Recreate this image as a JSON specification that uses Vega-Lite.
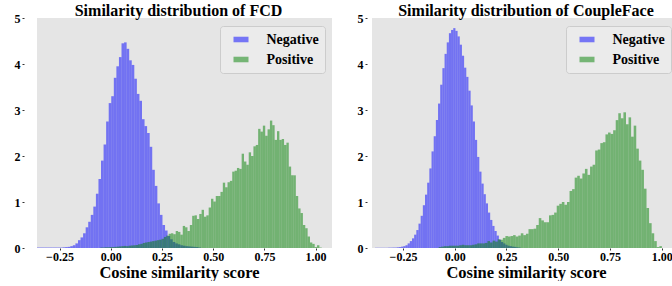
{
"$schema": "https://vega.github.io/schema/vega-lite/v6.json",
"background": "white",
"padding": {"left": 14, "top": 3, "right": 0, "bottom": 0},
"spacing": 25,
"config": {
  "view": {"fill": "#e5e5e5", "stroke": null},
  "font": "Liberation Serif",
  "title": {"font": "Liberation Serif", "fontSize": 16, "fontWeight": "bold", "color": "black", "offset": -7},
  "axis": {"labelFont": "Liberation Serif", "labelFontWeight": "bold", "labelFontSize": 12, "labelColor": "black", "titleFont": "Liberation Serif", "titleFontWeight": "bold", "titleFontSize": 16.5, "titleColor": "black", "grid": false, "domain": false, "tickColor": "#333333", "tickSize": 2, "labelPadding": 2},
  "legend": {"orient": "none", "title": null, "labelFont": "Liberation Serif", "labelFontWeight": "bold", "labelFontSize": 14, "labelColor": "black", "fillColor": "#ebebeb", "strokeColor": "#cccccc", "cornerRadius": 3, "padding": 6, "symbolType": "M-1,-0.37H1V0.37H-1Z", "symbolSize": 225, "symbolOffset": 7.5, "labelOffset": 18, "rowPadding": 5, "symbolOpacity": 0.5, "symbolStrokeWidth": 0}
},
"datasets": {
"fcdN": [
{"a":-0.36,"b":-0.3475,"h":0.01},{"a":-0.3475,"b":-0.335,"h":0.01},{"a":-0.335,"b":-0.3225,"h":0.01},{"a":-0.3225,"b":-0.31,"h":0.01},{"a":-0.31,"b":-0.2975,"h":0.01},{"a":-0.2975,"b":-0.285,"h":0.01},{"a":-0.285,"b":-0.2725,"h":0.01},{"a":-0.2725,"b":-0.26,"h":0.01},{"a":-0.26,"b":-0.2475,"h":0.01},{"a":-0.2475,"b":-0.235,"h":0.01},
{"a":-0.235,"b":-0.2225,"h":0.015},{"a":-0.2225,"b":-0.21,"h":0.02},{"a":-0.21,"b":-0.1975,"h":0.025},{"a":-0.1975,"b":-0.185,"h":0.04},{"a":-0.185,"b":-0.1725,"h":0.06},{"a":-0.1725,"b":-0.16,"h":0.1},{"a":-0.16,"b":-0.1475,"h":0.17},{"a":-0.1475,"b":-0.135,"h":0.23},{"a":-0.135,"b":-0.1225,"h":0.32},{"a":-0.1225,"b":-0.11,"h":0.45},
{"a":-0.11,"b":-0.0975,"h":0.57},{"a":-0.0975,"b":-0.085,"h":0.72},{"a":-0.085,"b":-0.0725,"h":0.9},{"a":-0.0725,"b":-0.06,"h":1.18},{"a":-0.06,"b":-0.0475,"h":1.5},{"a":-0.0475,"b":-0.035,"h":1.9},{"a":-0.035,"b":-0.0225,"h":2.25},{"a":-0.0225,"b":-0.01,"h":2.75},{"a":-0.01,"b":0.0025,"h":3.15},{"a":0.0025,"b":0.015,"h":3.3},
{"a":0.015,"b":0.0275,"h":3.7},{"a":0.0275,"b":0.04,"h":3.95},{"a":0.04,"b":0.0525,"h":4.15},{"a":0.0525,"b":0.065,"h":4.45},{"a":0.065,"b":0.0775,"h":4.47},{"a":0.0775,"b":0.09,"h":4.33},{"a":0.09,"b":0.1025,"h":4.08},{"a":0.1025,"b":0.115,"h":3.98},{"a":0.115,"b":0.1275,"h":3.68},{"a":0.1275,"b":0.14,"h":3.35},
{"a":0.14,"b":0.1525,"h":3.2},{"a":0.1525,"b":0.165,"h":2.8},{"a":0.165,"b":0.1775,"h":2.65},{"a":0.1775,"b":0.19,"h":2.5},{"a":0.19,"b":0.2025,"h":2.2},{"a":0.2025,"b":0.215,"h":1.7},{"a":0.215,"b":0.2275,"h":1.35},{"a":0.2275,"b":0.24,"h":0.97},{"a":0.24,"b":0.2525,"h":0.72},{"a":0.2525,"b":0.265,"h":0.5},
{"a":0.265,"b":0.2775,"h":0.38},{"a":0.2775,"b":0.29,"h":0.26},{"a":0.29,"b":0.3025,"h":0.19},{"a":0.3025,"b":0.315,"h":0.13},{"a":0.315,"b":0.3275,"h":0.1},{"a":0.3275,"b":0.34,"h":0.08},{"a":0.34,"b":0.3525,"h":0.06},{"a":0.3525,"b":0.365,"h":0.05},{"a":0.365,"b":0.3775,"h":0.04},{"a":0.3775,"b":0.39,"h":0.035},
{"a":0.39,"b":0.4025,"h":0.03},{"a":0.4025,"b":0.415,"h":0.025},{"a":0.415,"b":0.4275,"h":0.02},{"a":0.4275,"b":0.44,"h":0.01}
],
"fcdP": [
{"a":-0.051,"b":-0.0395,"h":0.01},{"a":-0.0395,"b":-0.028,"h":0.01},{"a":-0.028,"b":-0.0165,"h":0.015},{"a":-0.0165,"b":-0.005,"h":0.015},{"a":-0.005,"b":0.0065,"h":0.02},{"a":0.0065,"b":0.018,"h":0.02},{"a":0.018,"b":0.0295,"h":0.025},{"a":0.0295,"b":0.041,"h":0.03},{"a":0.041,"b":0.0525,"h":0.035},{"a":0.0525,"b":0.064,"h":0.04},
{"a":0.064,"b":0.0755,"h":0.045},{"a":0.0755,"b":0.087,"h":0.04},{"a":0.087,"b":0.0985,"h":0.05},{"a":0.0985,"b":0.11,"h":0.055},{"a":0.11,"b":0.1215,"h":0.06},{"a":0.1215,"b":0.133,"h":0.065},{"a":0.133,"b":0.1445,"h":0.08},{"a":0.1445,"b":0.156,"h":0.09},{"a":0.156,"b":0.1675,"h":0.11},{"a":0.1675,"b":0.179,"h":0.12},
{"a":0.179,"b":0.1905,"h":0.13},{"a":0.1905,"b":0.202,"h":0.14},{"a":0.202,"b":0.2135,"h":0.15},{"a":0.2135,"b":0.225,"h":0.16},{"a":0.225,"b":0.2365,"h":0.17},{"a":0.2365,"b":0.248,"h":0.18},{"a":0.248,"b":0.2595,"h":0.2},{"a":0.2595,"b":0.271,"h":0.24},{"a":0.271,"b":0.2825,"h":0.27},{"a":0.2825,"b":0.294,"h":0.31},
{"a":0.294,"b":0.3055,"h":0.32},{"a":0.3055,"b":0.317,"h":0.3},{"a":0.317,"b":0.3285,"h":0.37},{"a":0.3285,"b":0.34,"h":0.35},{"a":0.34,"b":0.3515,"h":0.29},{"a":0.3515,"b":0.363,"h":0.48},{"a":0.363,"b":0.3745,"h":0.45},{"a":0.3745,"b":0.386,"h":0.37},{"a":0.386,"b":0.3975,"h":0.5},{"a":0.3975,"b":0.409,"h":0.7},
{"a":0.409,"b":0.4205,"h":0.71},{"a":0.4205,"b":0.432,"h":0.63},{"a":0.432,"b":0.4435,"h":0.74},{"a":0.4435,"b":0.455,"h":0.83},{"a":0.455,"b":0.4665,"h":0.68},{"a":0.4665,"b":0.478,"h":0.71},{"a":0.478,"b":0.4895,"h":0.88},{"a":0.4895,"b":0.501,"h":1.07},{"a":0.501,"b":0.5125,"h":1.01},{"a":0.5125,"b":0.524,"h":1.13},
{"a":0.524,"b":0.5355,"h":1.13},{"a":0.5355,"b":0.547,"h":1.22},{"a":0.547,"b":0.5585,"h":1.42},{"a":0.5585,"b":0.57,"h":1.32},{"a":0.57,"b":0.5815,"h":1.43},{"a":0.5815,"b":0.593,"h":1.46},{"a":0.593,"b":0.6045,"h":1.66},{"a":0.6045,"b":0.616,"h":1.68},{"a":0.616,"b":0.6275,"h":1.74},{"a":0.6275,"b":0.639,"h":1.72},
{"a":0.639,"b":0.6505,"h":2.05},{"a":0.6505,"b":0.662,"h":1.88},{"a":0.662,"b":0.6735,"h":1.81},{"a":0.6735,"b":0.685,"h":2.08},{"a":0.685,"b":0.6965,"h":2.0},{"a":0.6965,"b":0.708,"h":2.21},{"a":0.708,"b":0.7195,"h":2.24},{"a":0.7195,"b":0.731,"h":2.59},{"a":0.731,"b":0.7425,"h":2.53},{"a":0.7425,"b":0.754,"h":2.66},
{"a":0.754,"b":0.7655,"h":2.44},{"a":0.7655,"b":0.777,"h":2.58},{"a":0.777,"b":0.7885,"h":2.77},{"a":0.7885,"b":0.8,"h":2.67},{"a":0.8,"b":0.8115,"h":2.35},{"a":0.8115,"b":0.823,"h":2.54},{"a":0.823,"b":0.8345,"h":2.35},{"a":0.8345,"b":0.846,"h":2.37},{"a":0.846,"b":0.8575,"h":2.24},{"a":0.8575,"b":0.869,"h":2.29},
{"a":0.869,"b":0.8805,"h":1.77},{"a":0.8805,"b":0.892,"h":1.58},{"a":0.892,"b":0.9035,"h":1.58},{"a":0.9035,"b":0.915,"h":1.13},{"a":0.915,"b":0.9265,"h":0.86},{"a":0.9265,"b":0.938,"h":0.76},{"a":0.938,"b":0.9495,"h":0.5},{"a":0.9495,"b":0.961,"h":0.43},{"a":0.961,"b":0.9725,"h":0.25},{"a":0.9725,"b":0.984,"h":0.12},
{"a":0.984,"b":0.9955,"h":0.09},{"a":0.9955,"b":1.007,"h":0.02},{"a":1.007,"b":1.0185,"h":0.06},{"a":1.0185,"b":1.03,"h":0.01}
],
"cfN": [
{"a":-0.3853,"b":-0.3748,"h":0.005},{"a":-0.3748,"b":-0.3643,"h":0.005},{"a":-0.3643,"b":-0.3538,"h":0.005},{"a":-0.3538,"b":-0.3433,"h":0.005},{"a":-0.3433,"b":-0.3328,"h":0.005},{"a":-0.3328,"b":-0.3223,"h":0.005},{"a":-0.3223,"b":-0.3118,"h":0.008},{"a":-0.3118,"b":-0.3013,"h":0.008},{"a":-0.3013,"b":-0.2908,"h":0.01},{"a":-0.2908,"b":-0.2803,"h":0.01},
{"a":-0.2803,"b":-0.2698,"h":0.015},{"a":-0.2698,"b":-0.2593,"h":0.02},{"a":-0.2593,"b":-0.2488,"h":0.03},{"a":-0.2488,"b":-0.2383,"h":0.04},{"a":-0.2383,"b":-0.2278,"h":0.06},{"a":-0.2278,"b":-0.2173,"h":0.1},{"a":-0.2173,"b":-0.2068,"h":0.15},{"a":-0.2068,"b":-0.1963,"h":0.21},{"a":-0.1963,"b":-0.1858,"h":0.29},{"a":-0.1858,"b":-0.1753,"h":0.39},
{"a":-0.1753,"b":-0.1648,"h":0.53},{"a":-0.1648,"b":-0.1543,"h":0.7},{"a":-0.1543,"b":-0.1438,"h":0.93},{"a":-0.1438,"b":-0.1333,"h":1.16},{"a":-0.1333,"b":-0.1228,"h":1.42},{"a":-0.1228,"b":-0.1123,"h":1.73},{"a":-0.1123,"b":-0.1018,"h":2.1},{"a":-0.1018,"b":-0.0913,"h":2.43},{"a":-0.0913,"b":-0.0808,"h":2.78},{"a":-0.0808,"b":-0.0703,"h":3.14},
{"a":-0.0703,"b":-0.0598,"h":3.55},{"a":-0.0598,"b":-0.0493,"h":3.91},{"a":-0.0493,"b":-0.0388,"h":4.22},{"a":-0.0388,"b":-0.0283,"h":4.47},{"a":-0.0283,"b":-0.0178,"h":4.67},{"a":-0.0178,"b":-0.0073,"h":4.74},{"a":-0.0073,"b":0.0032,"h":4.78},{"a":0.0032,"b":0.0137,"h":4.72},{"a":0.0137,"b":0.0242,"h":4.6},{"a":0.0242,"b":0.0347,"h":4.42},
{"a":0.0347,"b":0.0452,"h":4.18},{"a":0.0452,"b":0.0557,"h":3.92},{"a":0.0557,"b":0.0662,"h":3.72},{"a":0.0662,"b":0.0767,"h":3.42},{"a":0.0767,"b":0.0872,"h":3.1},{"a":0.0872,"b":0.0977,"h":2.75},{"a":0.0977,"b":0.1082,"h":2.35},{"a":0.1082,"b":0.1187,"h":1.98},{"a":0.1187,"b":0.1292,"h":1.66},{"a":0.1292,"b":0.1397,"h":1.4},
{"a":0.1397,"b":0.1502,"h":1.17},{"a":0.1502,"b":0.1607,"h":0.97},{"a":0.1607,"b":0.1712,"h":0.77},{"a":0.1712,"b":0.1817,"h":0.61},{"a":0.1817,"b":0.1922,"h":0.48},{"a":0.1922,"b":0.2027,"h":0.37},{"a":0.2027,"b":0.2132,"h":0.27},{"a":0.2132,"b":0.2237,"h":0.18},{"a":0.2237,"b":0.2342,"h":0.13},{"a":0.2342,"b":0.2447,"h":0.1},
{"a":0.2447,"b":0.2552,"h":0.07},{"a":0.2552,"b":0.2657,"h":0.05},{"a":0.2657,"b":0.2762,"h":0.04},{"a":0.2762,"b":0.2867,"h":0.03},{"a":0.2867,"b":0.2972,"h":0.025},{"a":0.2972,"b":0.3077,"h":0.015},{"a":0.3077,"b":0.3182,"h":0.01}
],
"cfP": [
{"a":-0.0776,"b":-0.0652,"h":0.02},{"a":-0.0652,"b":-0.0528,"h":0.03},{"a":-0.0528,"b":-0.0404,"h":0.04},{"a":-0.0404,"b":-0.028,"h":0.04},{"a":-0.028,"b":-0.0156,"h":0.05},{"a":-0.0156,"b":-0.0032,"h":0.05},{"a":-0.0032,"b":0.0092,"h":0.05},{"a":0.0092,"b":0.0216,"h":0.05},{"a":0.0216,"b":0.034,"h":0.06},{"a":0.034,"b":0.0464,"h":0.07},
{"a":0.0464,"b":0.0588,"h":0.06},{"a":0.0588,"b":0.0712,"h":0.06},{"a":0.0712,"b":0.0836,"h":0.06},{"a":0.0836,"b":0.096,"h":0.07},{"a":0.096,"b":0.1084,"h":0.08},{"a":0.1084,"b":0.1208,"h":0.1},{"a":0.1208,"b":0.1332,"h":0.1},{"a":0.1332,"b":0.1456,"h":0.1},{"a":0.1456,"b":0.158,"h":0.11},{"a":0.158,"b":0.1704,"h":0.15},
{"a":0.1704,"b":0.1828,"h":0.12},{"a":0.1828,"b":0.1952,"h":0.16},{"a":0.1952,"b":0.2076,"h":0.14},{"a":0.2076,"b":0.22,"h":0.19},{"a":0.22,"b":0.2324,"h":0.18},{"a":0.2324,"b":0.2448,"h":0.22},{"a":0.2448,"b":0.2572,"h":0.26},{"a":0.2572,"b":0.2696,"h":0.25},{"a":0.2696,"b":0.282,"h":0.26},{"a":0.282,"b":0.2944,"h":0.28},
{"a":0.2944,"b":0.3068,"h":0.25},{"a":0.3068,"b":0.3192,"h":0.27},{"a":0.3192,"b":0.3316,"h":0.32},{"a":0.3316,"b":0.344,"h":0.28},{"a":0.344,"b":0.3564,"h":0.31},{"a":0.3564,"b":0.3688,"h":0.41},{"a":0.3688,"b":0.3812,"h":0.41},{"a":0.3812,"b":0.3936,"h":0.42},{"a":0.3936,"b":0.406,"h":0.5},{"a":0.406,"b":0.4184,"h":0.65},
{"a":0.4184,"b":0.4308,"h":0.6},{"a":0.4308,"b":0.4432,"h":0.56},{"a":0.4432,"b":0.4556,"h":0.56},{"a":0.4556,"b":0.468,"h":0.71},{"a":0.468,"b":0.4804,"h":0.72},{"a":0.4804,"b":0.4928,"h":0.77},{"a":0.4928,"b":0.5052,"h":0.92},{"a":0.5052,"b":0.5176,"h":0.96},{"a":0.5176,"b":0.53,"h":1.0},{"a":0.53,"b":0.5424,"h":0.94},
{"a":0.5424,"b":0.5548,"h":1.0},{"a":0.5548,"b":0.5672,"h":1.24},{"a":0.5672,"b":0.5796,"h":1.28},{"a":0.5796,"b":0.592,"h":1.53},{"a":0.592,"b":0.6044,"h":1.57},{"a":0.6044,"b":0.6168,"h":1.51},{"a":0.6168,"b":0.6292,"h":1.62},{"a":0.6292,"b":0.6416,"h":1.72},{"a":0.6416,"b":0.654,"h":1.59},{"a":0.654,"b":0.6664,"h":1.77},
{"a":0.6664,"b":0.6788,"h":1.81},{"a":0.6788,"b":0.6912,"h":2.12},{"a":0.6912,"b":0.7036,"h":2.14},{"a":0.7036,"b":0.716,"h":2.28},{"a":0.716,"b":0.7284,"h":2.3},{"a":0.7284,"b":0.7408,"h":2.47},{"a":0.7408,"b":0.7532,"h":2.51},{"a":0.7532,"b":0.7656,"h":2.48},{"a":0.7656,"b":0.778,"h":2.56},{"a":0.778,"b":0.7904,"h":2.78},
{"a":0.7904,"b":0.8028,"h":2.93},{"a":0.8028,"b":0.8152,"h":2.82},{"a":0.8152,"b":0.8276,"h":2.95},{"a":0.8276,"b":0.84,"h":2.69},{"a":0.84,"b":0.8524,"h":2.84},{"a":0.8524,"b":0.8648,"h":2.42},{"a":0.8648,"b":0.8772,"h":2.66},{"a":0.8772,"b":0.8896,"h":2.16},{"a":0.8896,"b":0.902,"h":1.9},{"a":0.902,"b":0.9144,"h":1.7},
{"a":0.9144,"b":0.9268,"h":1.29},{"a":0.9268,"b":0.9392,"h":0.87},{"a":0.9392,"b":0.9516,"h":0.54},{"a":0.9516,"b":0.964,"h":0.32},{"a":0.964,"b":0.9764,"h":0.15},{"a":0.9764,"b":0.9888,"h":0.02},{"a":0.9888,"b":1.0012,"h":0.04}
]
},
"hconcat": [
{
  "width": 295, "height": 230,
  "title": {"text": "Similarity distribution of FCD", "dx": -6},
  "layer": [
    {"data": {"name": "fcdN"}, "mark": {"type": "bar", "opacity": 0.5, "fill": "#0000ff"},
     "encoding": {
       "x": {"field": "a", "type": "quantitative", "scale": {"domain": [-0.36, 1.08], "nice": false, "zero": false}, "axis": {"values": [-0.25, 0, 0.25, 0.5, 0.75, 1.0], "format": ".2f", "title": "Cosine similarity score", "titlePadding": 2, "labelPadding": 1, "titleX": 142}},
       "x2": {"field": "b"},
       "y": {"field": "h", "type": "quantitative", "scale": {"domain": [0, 5], "nice": false}, "axis": {"values": [0, 1, 2, 3, 4, 5], "format": "d", "title": null, "offset": 13}},
       "y2": {"datum": 0},
       "color": {"datum": "Negative", "scale": {"domain": ["Negative", "Positive"], "range": ["#0000ff", "#008000"]}, "legend": {"legendX": 183, "legendY": 8}}
     }},
    {"data": {"name": "fcdP"}, "mark": {"type": "bar", "opacity": 0.5, "fill": "#008000"},
     "encoding": {
       "x": {"field": "a", "type": "quantitative"},
       "x2": {"field": "b"},
       "y": {"field": "h", "type": "quantitative"},
       "y2": {"datum": 0},
       "color": {"datum": "Positive"}
     }}
  ]
},
{
  "width": 300, "height": 230,
  "title": {"text": "Similarity distribution of CoupleFace", "dx": 4},
  "layer": [
    {"data": {"name": "cfN"}, "mark": {"type": "bar", "opacity": 0.5, "fill": "#0000ff"},
     "encoding": {
       "x": {"field": "a", "type": "quantitative", "scale": {"domain": [-0.4, 1.05], "nice": false, "zero": false}, "axis": {"values": [-0.25, 0, 0.25, 0.5, 0.75, 1.0], "format": ".2f", "title": "Cosine similarity score", "titlePadding": 2, "labelPadding": 1, "titleX": 154}},
       "x2": {"field": "b"},
       "y": {"field": "h", "type": "quantitative", "scale": {"domain": [0, 5], "nice": false}, "axis": {"values": [0, 1, 2, 3, 4, 5], "format": "d", "title": null, "offset": 5}},
       "y2": {"datum": 0},
       "color": {"datum": "Negative", "scale": {"domain": ["Negative", "Positive"], "range": ["#0000ff", "#008000"]}, "legend": {"legendX": 194, "legendY": 8}}
     }},
    {"data": {"name": "cfP"}, "mark": {"type": "bar", "opacity": 0.5, "fill": "#008000"},
     "encoding": {
       "x": {"field": "a", "type": "quantitative"},
       "x2": {"field": "b"},
       "y": {"field": "h", "type": "quantitative"},
       "y2": {"datum": 0},
       "color": {"datum": "Positive"}
     }}
  ]
}
],
"resolve": {"scale": {"color": "independent", "x": "independent", "y": "independent"}, "legend": {"color": "independent"}}
}
